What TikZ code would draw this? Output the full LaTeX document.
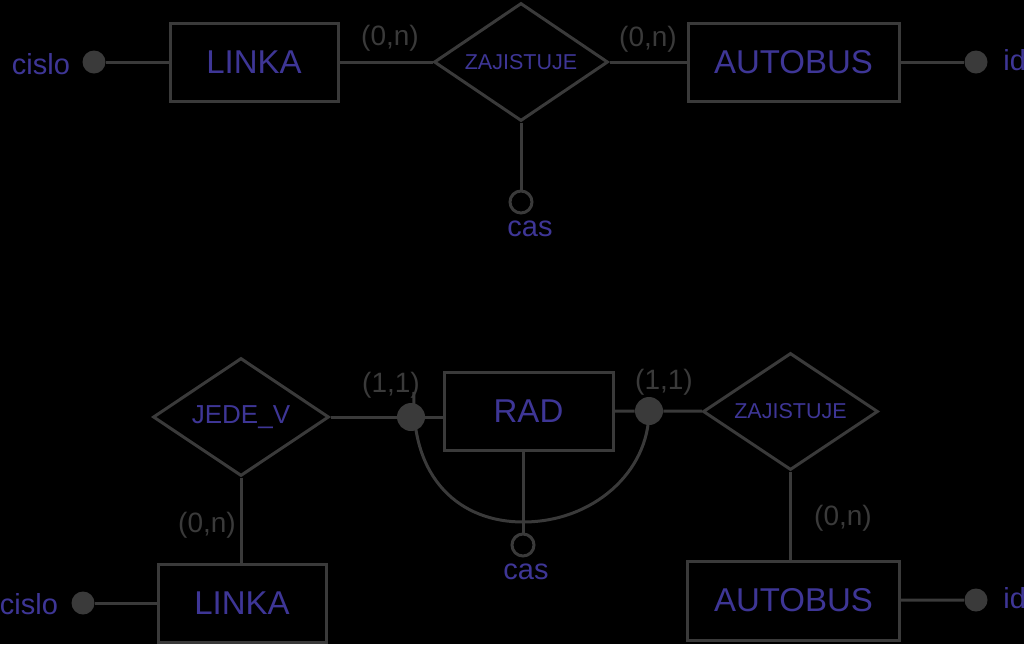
\documentclass[tikz,border=0pt]{standalone}
\usepackage{fontspec}
\setmainfont{Liberation Sans}
\usetikzlibrary{shapes.geometric,calc}
\definecolor{linegray}{RGB}{58,58,58}
\definecolor{textblue}{RGB}{62,54,150}

\begin{document}
\begin{tikzpicture}[x=0.5pt,y=-0.5pt,
    conn/.style={draw=linegray,line width=1.5pt},
    entity/.style={draw=linegray,line width=1.5pt,rectangle,minimum height=39pt,inner sep=0pt,text=textblue,font=\fontsize{16.5}{18}\selectfont},
    relation/.style={draw=linegray,line width=1.5pt,diamond,aspect=1.46,minimum width=87pt,minimum height=59pt,inner sep=0pt,text=textblue,font=\fontsize{10.75}{12}\selectfont},
    keydot/.style={circle,fill=linegray,minimum size=11.5pt,inner sep=0pt},
    attrdot/.style={circle,draw=linegray,line width=1.5pt,minimum size=11pt,inner sep=0pt},
    attrtext/.style={text=textblue,inner sep=0pt,font=\fontsize{14.5}{16}\selectfont},
    card/.style={text=linegray,inner sep=0pt,font=\fontsize{14}{16}\selectfont}]

    \fill[black] (0,0) rectangle (1024,644); % pozadi
    \useasboundingbox (0,0) rectangle (1024,644);

    % horni schema
    \node[entity,minimum width=84pt] (linka1) at (254,62) {LINKA};
    \node[relation] (zaj1) at (521,62) {ZAJISTUJE};
    \node[entity,minimum width=105.5pt] (bus1) at (793.5,62) {AUTOBUS};
    \node[keydot] (cislo1dot) at (94,62) {};
    \node[attrtext] (cislo1) at (41,64) {cislo};
    \node[keydot] (id1dot) at (976,62) {};
    \node[attrtext,anchor=west] (id1) at (1003,60) {id};
    \node[attrdot] (cas1dot) at (521,202) {};
    \node[attrtext] (cas1) at (530,229) {cas};
    \node[card] (card1) at (390,38) {(0,n)};
    \node[card] (card2) at (648,39) {(0,n)};

    \draw[conn] (cislo1dot) -- (linka1);
    \draw[conn] (linka1) -- (zaj1);
    \draw[conn] (zaj1) -- (bus1);
    \draw[conn] (bus1) -- (id1dot);
    \draw[conn] (zaj1) -- (cas1dot);

    % dolni schema
    \node[relation,minimum width=88pt,font=\fontsize{13}{15}\selectfont] (jede) at (241,417) {JEDE\_V};
    \node[entity,minimum width=84.5pt] (rad) at (528.5,411.5) {RAD};
    \node[relation,minimum width=87.5pt,minimum height=58.5pt] (zaj2) at (790.5,411.5) {ZAJISTUJE};
    \node[entity,minimum width=84pt] (linka2) at (242,603) {LINKA};
    \node[entity,minimum width=106pt,minimum height=39.5pt] (bus2) at (793.5,600.5) {AUTOBUS};
    \node[keydot,minimum size=14pt] (leftdot) at (411,417) {};
    \node[keydot,minimum size=14pt] (rightdot) at (649,411) {};
    \node[keydot] (cislo2dot) at (83,603) {};
    \node[attrtext] (cislo2) at (29,604) {cislo};
    \node[keydot] (id2dot) at (976,600) {};
    \node[attrtext,anchor=west] (id2) at (1003,598) {id};
    \node[attrdot] (cas2dot) at (523,545) {};
    \node[attrtext] (cas2) at (526,572) {cas};
    \node[card] (card3) at (207,525) {(0,n)};
    \node[card] (card4) at (391,385) {(1,1)};
    \node[card] (card5) at (664,382) {(1,1)};
    \node[card] (card6) at (843,518) {(0,n)};

    \coordinate (arcstart) at (414,392);
    \coordinate (arcbot) at (523,522);

    \draw[conn] (jede) -- (leftdot);
    \draw[conn] (leftdot) -- (leftdot -| rad.west);
    \draw[conn] (rad) -- (rightdot);
    \draw[conn] (rightdot) -- (zaj2);
    \draw[conn] (zaj2.south) -- (zaj2.south |- bus2.north);
    \draw[conn] (jede.south) -- (jede.south |- linka2.north);
    \draw[conn] (linka2) -- (cislo2dot);
    \draw[conn] (bus2) -- (id2dot);
    \draw[conn] (rad.south -| cas2dot) -- (cas2dot);
    \draw[conn] (arcstart) .. controls (410,480) and (461,522) .. (arcbot)
        .. controls (593,522) and (649,472) .. (rightdot.center); % oblouk

\end{tikzpicture}
\end{document}
